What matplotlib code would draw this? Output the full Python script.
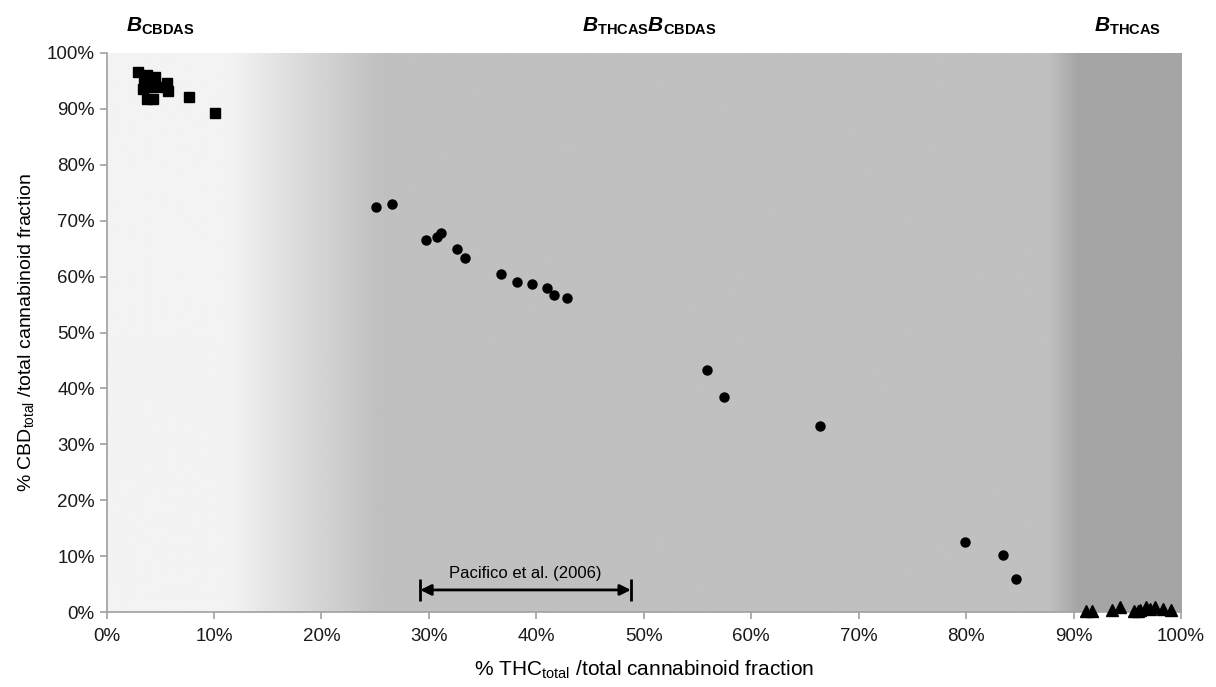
import numpy as np
import matplotlib
matplotlib.use("Agg")
import matplotlib.pyplot as plt
from matplotlib.ticker import PercentFormatter

plt.rcParams['font.family'] = ['Liberation Sans', 'DejaVu Sans']
plt.rcParams['mathtext.fontset'] = 'custom'
plt.rcParams['mathtext.rm'] = 'Liberation Sans'
plt.rcParams['mathtext.it'] = 'Liberation Sans:italic:bold'
plt.rcParams['mathtext.bf'] = 'Liberation Sans:bold'

# B_CBDAS group (squares)
cbdas_thc = [2.96, 3.74, 4.51, 3.49, 3.37, 4.05, 4.98, 5.60, 5.75, 3.74, 4.35, 7.65, 10.07]
cbdas_cbd = [96.6, 96.0, 95.7, 94.5, 93.6, 93.9, 93.9, 94.5, 93.2, 91.8, 91.7, 92.0, 89.3]

# B_THCAS B_CBDAS group (circles)
mixed_thc = [25.07, 26.56, 29.75, 30.77, 31.09, 32.60, 33.38, 36.70, 38.16, 39.58,
             40.98, 41.66, 42.84, 55.86, 57.44, 66.37, 79.93, 83.40, 84.60]
mixed_cbd = [72.5, 73.0, 66.5, 67.0, 67.8, 64.9, 63.3, 60.5, 59.0, 58.7,
             57.9, 56.7, 56.1, 43.3, 38.5, 33.3, 12.6, 10.3, 5.9]

# B_THCAS group (triangles)
thcas_thc = [91.2, 91.7, 93.6, 94.3, 95.6, 96.0, 96.2, 96.7, 97.1, 97.6, 98.3, 99.1]
thcas_cbd = [0.3, 0.3, 0.5, 0.9, 0.2, 0.3, 0.5, 0.9, 0.6, 0.9, 0.6, 0.4]

# literature range
pacifico_range = [29.2, 48.8]
pacifico_y = 4.0

# background shading (position %, grey level)
bg_pos = [0, 11.5, 24.5, 25.5, 87.8, 90.4, 100]
bg_val = [0.95, 0.95, 0.765, 0.75, 0.75, 0.645, 0.645]

fig = plt.figure(figsize=(12.16, 6.87), dpi=100)
ax = fig.add_axes([0.0876, 0.1087, 0.8836, 0.8146])

xs = np.linspace(0, 100, 1001)
grad = np.interp(xs, bg_pos, bg_val)[np.newaxis, :]
ax.imshow(grad, cmap='gray', vmin=0, vmax=1, aspect='auto',
          extent=[0, 100, 0, 100], zorder=0, interpolation='bilinear')

ax.plot(cbdas_thc, cbdas_cbd, 's', color='black', markersize=7.5, zorder=3)
ax.plot(mixed_thc, mixed_cbd, 'o', color='black', markersize=6.5, zorder=3)
ax.plot(thcas_thc, thcas_cbd, '^', color='black', markersize=9, zorder=3, clip_on=False)

ax.annotate('', xy=(pacifico_range[0], pacifico_y), xytext=(pacifico_range[1], pacifico_y),
            arrowprops=dict(arrowstyle='<|-|>', color='black', lw=2,
                            mutation_scale=16, shrinkA=0, shrinkB=0), zorder=4)
ax.plot(pacifico_range, [pacifico_y, pacifico_y], '|', color='black',
        markersize=16, markeredgewidth=2, zorder=4)
ax.text(np.mean(pacifico_range), pacifico_y + 1.6, 'Pacifico et al. (2006)',
        ha='center', va='bottom', fontsize=12)

ax.set_xlim(0, 100)
ax.set_ylim(0, 100)
ax.set_xticks(np.arange(0, 101, 10))
ax.set_yticks(np.arange(0, 101, 10))
ax.xaxis.set_major_formatter(PercentFormatter(decimals=0))
ax.yaxis.set_major_formatter(PercentFormatter(decimals=0))
ax.tick_params(axis='both', labelsize=13.5, color='#a0a0a0', labelcolor='#1a1a1a',
               length=5, width=1.2)
ax.tick_params(axis='x', pad=6)

for side in ['top', 'right']:
    ax.spines[side].set_visible(False)
for side in ['left', 'bottom']:
    ax.spines[side].set_color('#a0a0a0')
    ax.spines[side].set_linewidth(1.2)

ax.set_xlabel(r'% THC$_{\mathrm{total}}$ /total cannabinoid fraction', fontsize=15, labelpad=10)
ax.set_ylabel(r'% CBD$_{\mathrm{total}}$ /total cannabinoid fraction', fontsize=14, labelpad=8)

tr = ax.get_xaxis_transform()
ax.text(5.0, 1.047, r'$\mathit{B}_{\mathbf{CBDAS}}$', transform=tr, ha='center', va='center', fontsize=15)
ax.text(50.5, 1.047, r'$\mathit{B}_{\mathbf{THCAS}}\mathit{B}_{\mathbf{CBDAS}}$', transform=tr,
        ha='center', va='center', fontsize=15)
ax.text(95.0, 1.047, r'$\mathit{B}_{\mathbf{THCAS}}$', transform=tr, ha='center', va='center', fontsize=15)

fig.savefig('out.png', dpi=100)
